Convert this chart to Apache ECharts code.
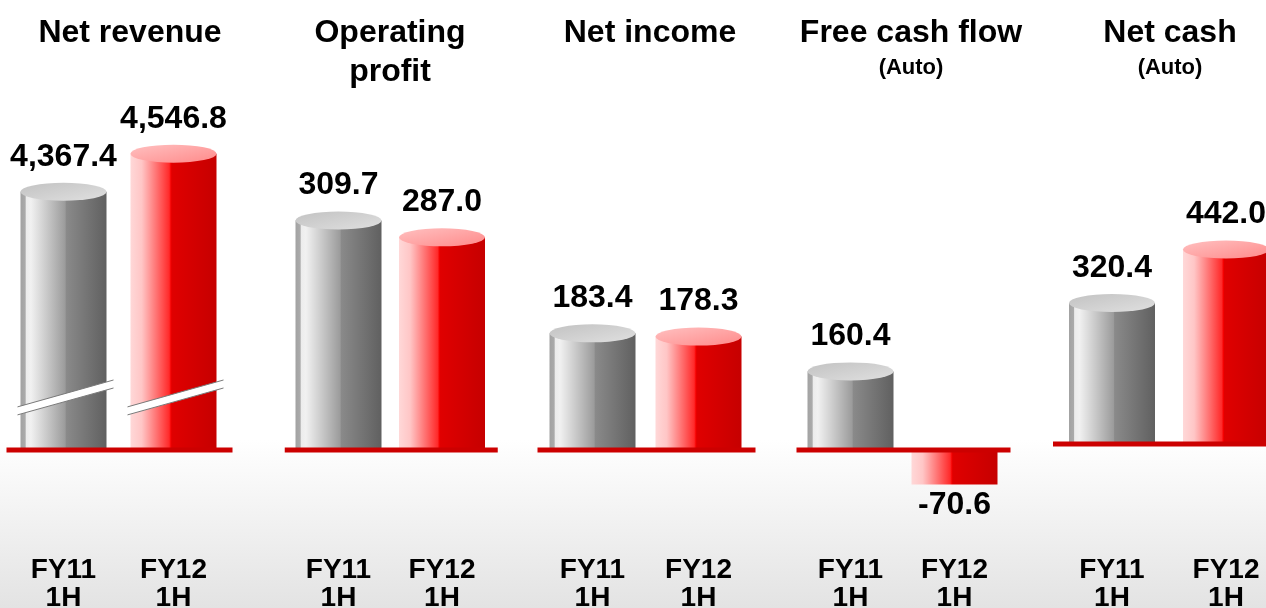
<!DOCTYPE html>
<html>
<head>
<meta charset="utf-8">
<script src="https://cdn.jsdelivr.net/npm/echarts@6/dist/echarts.min.js"></script>
<style>
  html, body { margin: 0; padding: 0; background: #fff; }
  #chart { width: 1266px; height: 608px; }
</style>
</head>
<body>
<div id="chart"></div>
<script>
// --- data ---
const panelTitles = ['Net revenue', 'Operating\nprofit', 'Net income', 'Free cash flow', 'Net cash'];
const panelSubtitles = ['', '', '', '(Auto)', '(Auto)'];
const periods = ['FY11\n1H', 'FY12\n1H'];
const fy11 = [4367.4, 309.7, 183.4, 160.4, 320.4];
const fy12 = [4546.8, 287.0, 178.3, -70.6, 442.0];

// --- layout (pixels / axis scaling per panel) ---
const GRID_TOP = 100;
const GRID_BOTTOM_Y = 510;
const gridLeft = [8.5, 286.75, 539.5, 798.5, 1055];
const gridWidth = [220, 207, 212, 208, 228];
const titleCenter = [130, 390, 650, 911, 1170];
const axisBase = [3150, 0, 0, 0, 0];          // net revenue axis is broken
const pxPerUnit = [0.2121, 0.741, 0.636, 0.49, 0.44];
const baseY = [450, 450, 450, 450, 444];
const BREAK_PANEL = 0;

const BAR_W = 86;
const CAP_RY = 9;
const FONT = '"Liberation Sans", Arial, Helvetica, sans-serif';

const G = echarts.graphic;
const greyBody = () => new G.LinearGradient(0, 0, 1, 0, [
    { offset: 0, color: '#a2a2a2' },
    { offset: 0.055, color: '#ababab' },
    { offset: 0.065, color: '#ececec' },
    { offset: 0.12, color: '#f1f1f1' },
    { offset: 0.52, color: '#9b9b9b' },
    { offset: 0.53, color: '#8a8a8a' },
    { offset: 1, color: '#606060' }
]);
const redBody = () => new G.LinearGradient(0, 0, 1, 0, [
    { offset: 0, color: '#ffd8d8' },
    { offset: 0.13, color: '#ffc6c6' },
    { offset: 0.45, color: '#ff2a2a' },
    { offset: 0.47, color: '#f60000' },
    { offset: 0.48, color: '#e00000' },
    { offset: 1, color: '#c60000' }
]);
const greyCap = () => new G.LinearGradient(0, 0, 1, 1, [
    { offset: 0, color: '#c2c2c2' },
    { offset: 1, color: '#e0e0e0' }
]);
const redCap = () => new G.LinearGradient(0, 0, 1, 1, [
    { offset: 0, color: '#ffc0c0' },
    { offset: 1, color: '#ff8a8a' }
]);

function fmt(v) {
    return v.toLocaleString('en-US', { minimumFractionDigits: 1, maximumFractionDigits: 1 });
}

function valueText(x, y, v) {
    return {
        type: 'text', x: x, y: y, z2: 20,
        style: {
            text: fmt(v), fill: '#000', fontSize: 32, fontWeight: 'bold',
            fontFamily: FONT, align: 'center', verticalAlign: 'middle'
        }
    };
}

// slanted white band marking the broken axis
function breakBand(cx, yc) {
    const xa = cx - BAR_W / 2 - 3, xb = cx + BAR_W / 2 + 7, k = 0.28, h = 4;
    const ya = yc - k * (xa - cx), yb = yc - k * (xb - cx);
    return [
        { type: 'polygon', z2: 5, shape: { points: [[xa, ya + h], [xb, yb + h], [xb, yb - h], [xa, ya - h]] }, style: { fill: '#fff' } },
        { type: 'line', z2: 6, shape: { x1: xa, y1: ya + h, x2: xb, y2: yb + h }, style: { stroke: '#7a7a7a', lineWidth: 1 } },
        { type: 'line', z2: 6, shape: { x1: xa, y1: ya - h, x2: xb, y2: yb - h }, style: { stroke: '#7a7a7a', lineWidth: 1 } }
    ];
}

function cylinder(panel) {
    return function (params, api) {
        const i = api.value(0);
        const v = api.value(1);
        const base = api.coord([i, axisBase[panel]]);
        const end = api.coord([i, v]);
        const cx = base[0];
        const x0 = cx - BAR_W / 2;
        const red = i === 1;
        const kids = [];

        if (v >= 0) {
            kids.push({
                type: 'rect', z2: 1,
                shape: { x: x0, y: end[1], width: BAR_W, height: base[1] - end[1] },
                style: { fill: red ? redBody() : greyBody() }
            });
            kids.push({
                type: 'circle', z2: 2, x: cx, y: end[1], scaleY: CAP_RY / (BAR_W / 2),
                shape: { cx: 0, cy: 0, r: BAR_W / 2 },
                style: { fill: red ? redCap() : greyCap() }
            });
            kids.push(valueText(cx, end[1] - 35, v));
        } else {
            kids.push({
                type: 'rect', z2: 1,
                shape: { x: x0, y: base[1], width: BAR_W, height: end[1] - base[1] },
                style: { fill: red ? redBody() : greyBody() }
            });
            kids.push(valueText(cx, end[1] + 21, v));
        }

        if (panel === BREAK_PANEL) {
            kids.push(...breakBand(cx, base[1] - 52));
        }

        if (i === 0) {
            const cs = params.coordSys;
            kids.push({
                type: 'rect', z2: 10,
                shape: { x: cs.x - 2, y: base[1] - 2.5, width: cs.width + 6, height: 5 },
                style: { fill: '#cc0000' }
            });
        }
        return { type: 'group', children: kids };
    };
}

const grids = [], xAxes = [], yAxes = [], series = [], titles = [];
for (let p = 0; p < 5; p++) {
    const s = pxPerUnit[p];
    grids.push({
        left: gridLeft[p], width: gridWidth[p], top: GRID_TOP, bottom: 608 - GRID_BOTTOM_Y,
        outerBoundsMode: 'none', containLabel: false
    });
    xAxes.push({
        type: 'category', gridIndex: p, data: periods,
        axisLine: { show: false }, axisTick: { show: false },
        axisLabel: {
            interval: 0, margin: 46, color: '#000', fontSize: 28, fontWeight: 'bold',
            lineHeight: 28, fontFamily: FONT
        }
    });
    yAxes.push({
        type: 'value', gridIndex: p, show: false,
        min: axisBase[p] - (GRID_BOTTOM_Y - baseY[p]) / s,
        max: axisBase[p] + (baseY[p] - GRID_TOP) / s,
        splitLine: { show: false }
    });
    series.push({
        type: 'custom', xAxisIndex: p, yAxisIndex: p,
        renderItem: cylinder(p),
        data: [[0, fy11[p]], [1, fy12[p]]]
    });
    titles.push({
        text: panelTitles[p], subtext: panelSubtitles[p],
        left: titleCenter[p], top: 14, textAlign: 'center', padding: 0, itemGap: 3,
        textStyle: { color: '#000', fontSize: 32, fontWeight: 'bold', lineHeight: 39, fontFamily: FONT },
        subtextStyle: { color: '#000', fontSize: 22, fontWeight: 'bold', lineHeight: 24, fontFamily: FONT }
    });
}

const chart = echarts.init(document.getElementById('chart'));
chart.setOption({
    animation: false,
    backgroundColor: '#fff',
    title: titles,
    graphic: [{
        type: 'rect', left: 0, top: 440, z: -10, silent: true,
        shape: { width: 1266, height: 168 },
        style: {
            fill: new G.LinearGradient(0, 0, 0, 1, [
                { offset: 0, color: '#ffffff' },
                { offset: 1, color: '#e3e3e3' }
            ])
        }
    }],
    grid: grids,
    xAxis: xAxes,
    yAxis: yAxes,
    series: series
});
</script>
</body>
</html>
